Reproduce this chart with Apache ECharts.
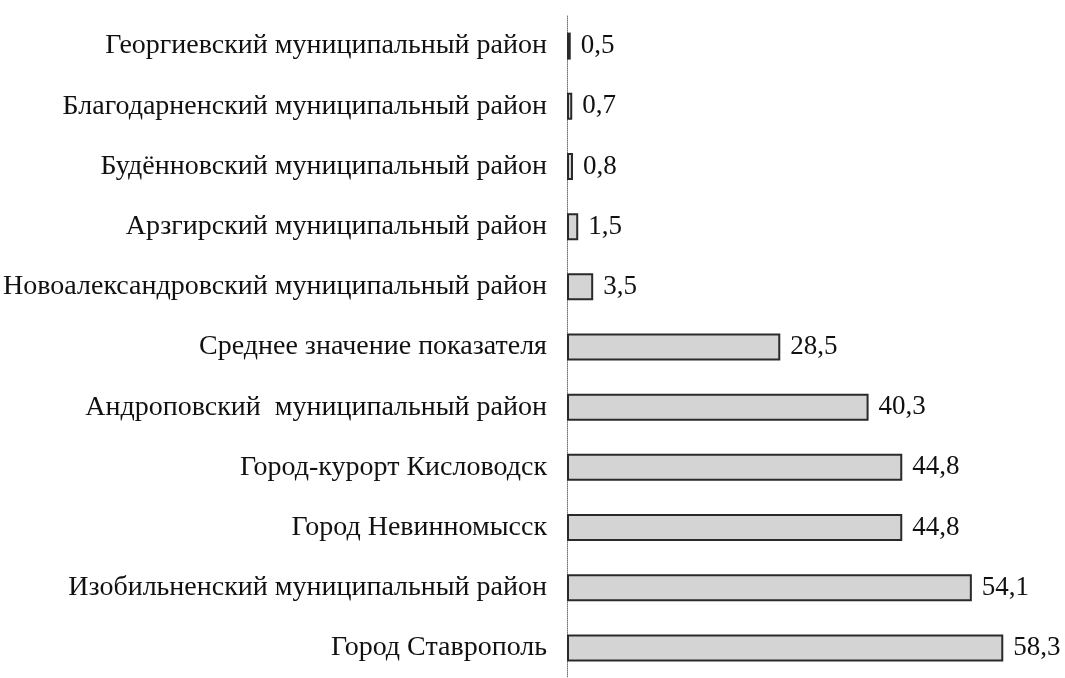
<!DOCTYPE html>
<html>
<head>
<meta charset="utf-8">
<script src="https://cdn.jsdelivr.net/npm/echarts@6/dist/echarts.min.js"></script>
<style>
  html, body { margin: 0; padding: 0; background: #fff; }
  #chart { width: 1065px; height: 678px; }
</style>
</head>
<body>
<div id="chart"></div>
<script>
var categories = [
  "Георгиевский муниципальный район",
  "Благодарненский муниципальный район",
  "Будённовский муниципальный район",
  "Арзгирский муниципальный район",
  "Новоалександровский муниципальный район",
  "Среднее значение показателя",
  "Андроповский  муниципальный район",
  "Город-курорт Кисловодск",
  "Город Невинномысск",
  "Изобильненский муниципальный район",
  "Город Ставрополь"
];
var values = [0.5, 0.7, 0.8, 1.5, 3.5, 28.5, 40.3, 44.8, 44.8, 54.1, 58.3];

var chartDom = document.getElementById("chart");
var myChart = echarts.init(chartDom);
var option;

option = {
  animation: false,
  grid: {
    left: 567,
    top: 16,
    width: 449,
    height: 670
  },
  xAxis: {
    type: "value",
    min: 0,
    max: 60,
    show: false
  },
  yAxis: {
    type: "category",
    inverse: true,
    data: categories,
    axisLine: {
      lineStyle: { color: "#777", width: 1, type: "dotted" }
    },
    axisTick: {
      length: 5,
      lineStyle: { color: "#999", width: 1 }
    },
    axisLabel: {
      margin: 20,
      fontFamily: "Liberation Serif",
      fontSize: 28,
      color: "#111"
    }
  },
  series: [
    {
      type: "bar",
      data: values,
      barWidth: 27,
      itemStyle: {
        color: "#d4d4d4",
        borderColor: "#2a2a2a",
        borderWidth: 2
      },
      label: {
        show: true,
        position: "right",
        distance: 10,
        fontFamily: "Liberation Serif",
        fontSize: 27,
        color: "#111",
        formatter: function (p) {
          return String(p.value).replace(".", ",");
        }
      }
    }
  ]
};

option && myChart.setOption(option);
</script>
</body>
</html>
